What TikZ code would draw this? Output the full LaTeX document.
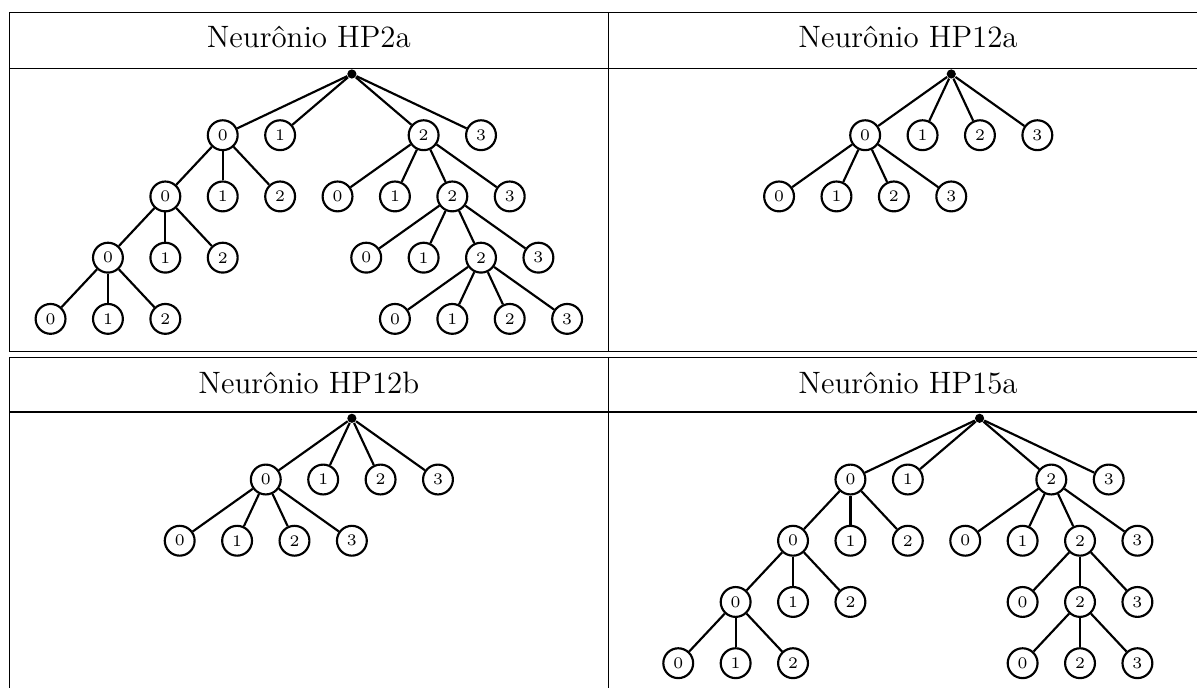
\documentclass[tikz,border=0pt]{standalone}
\usepackage{tikz}

\tikzset{
  tabela/.style={line width=0.4pt},
  titulo/.style={anchor=base, font=\fontsize{11.5}{14}\selectfont},
  raiz/.style={circle, fill, inner sep=0pt, minimum size=1.2mm},
  neuronio/.style={circle, draw, thick, inner sep=0pt, minimum size=3.9mm,
    font=\fontsize{6}{7}\selectfont},
  ramo/.style={thick}
}

\begin{document}
\begin{tikzpicture}
\useasboundingbox (0,0) rectangle (15.641,-8.990);

% Tabela
	\draw[tabela] (0.122,-0.163) -- (15.641,-0.163);
	\draw[tabela] (0.122,-0.893) -- (15.641,-0.893);
	\draw[tabela] (0.122,-4.596) -- (15.641,-4.596);
	\draw[tabela] (0.122,-4.666) -- (15.641,-4.666);
	\draw[tabela] (0.122,-5.384) -- (15.641,-5.384);

	\foreach \x in {0.122, 7.949} {
		\draw[tabela] (\x,-0.163) -- (\x,-4.596);
		\draw[tabela] (\x,-4.666) -- (\x,-8.990);
	}

	\node[titulo] (t1) at (4.035,-0.621) {Neurônio HP2a};
	\node[titulo] (t2) at (11.865,-0.621) {Neurônio HP12a};
	\node[titulo] (t3) at (4.035,-5.139) {Neurônio HP12b};
	\node[titulo] (t4) at (11.865,-5.139) {Neurônio HP15a};

% Neurônio HP2a
\begin{scope}[shift={(4.598cm,-0.967cm)}, x=7.5mm, y=8mm, name prefix=hp2a-]
	\node[raiz] (r) at (0,0) {};
	\foreach \x/\n in {-2.25/0, -1.25/1, 1.25/2, 2.25/3}
		\node[neuronio] (a\n) at (\x,-1) {\n};
	\foreach \x/\n in {-3.25/0, -2.25/1, -1.25/2}
		\node[neuronio] (b\n) at (\x,-2) {\n};
	\foreach \x/\n in {-4.25/0, -3.25/1, -2.25/2}
		\node[neuronio] (c\n) at (\x,-3) {\n};
	\foreach \x/\n in {-5.25/0, -4.25/1, -3.25/2}
		\node[neuronio] (d\n) at (\x,-4) {\n};
	\foreach \x/\n in {-0.25/0, 0.75/1, 1.75/2, 2.75/3}
		\node[neuronio] (e\n) at (\x,-2) {\n};
	\foreach \x/\n in {0.25/0, 1.25/1, 2.25/2, 3.25/3}
		\node[neuronio] (f\n) at (\x,-3) {\n};
	\foreach \x/\n in {0.75/0, 1.75/1, 2.75/2, 3.75/3}
		\node[neuronio] (g\n) at (\x,-4) {\n};

	\foreach \n in {0, 1, 2, 3}
		\draw[ramo] (r) -- (a\n);
	\foreach \n in {0, 1, 2} {
		\draw[ramo] (a0) -- (b\n);
		\draw[ramo] (b0) -- (c\n);
		\draw[ramo] (c0) -- (d\n);
	}
	\foreach \n in {0, 1, 2, 3} {
		\draw[ramo] (a2) -- (e\n);
		\draw[ramo] (e2) -- (f\n);
		\draw[ramo] (f2) -- (g\n);
	}
\end{scope}

% Neurônio HP12a
\begin{scope}[shift={(12.43cm,-0.967cm)}, x=7.5mm, y=8mm, name prefix=hp12a-]
	\node[raiz] (r) at (0,0) {};
	\foreach \x/\n in {-1.5/0, -0.5/1, 0.5/2, 1.5/3}
		\node[neuronio] (a\n) at (\x,-1) {\n};
	\foreach \x/\n in {-3/0, -2/1, -1/2, 0/3}
		\node[neuronio] (b\n) at (\x,-2) {\n};

	\foreach \n in {0, 1, 2, 3} {
		\draw[ramo] (r) -- (a\n);
		\draw[ramo] (a0) -- (b\n);
	}
\end{scope}

% Neurônio HP12b
\begin{scope}[shift={(4.598cm,-5.466cm)}, x=7.5mm, y=8mm, name prefix=hp12b-]
	\node[raiz] (r) at (0,0) {};
	\foreach \x/\n in {-1.5/0, -0.5/1, 0.5/2, 1.5/3}
		\node[neuronio] (a\n) at (\x,-1) {\n};
	\foreach \x/\n in {-3/0, -2/1, -1/2, 0/3}
		\node[neuronio] (b\n) at (\x,-2) {\n};

	\foreach \n in {0, 1, 2, 3} {
		\draw[ramo] (r) -- (a\n);
		\draw[ramo] (a0) -- (b\n);
	}
\end{scope}

% Neurônio HP15a
\begin{scope}[shift={(12.80cm,-5.466cm)}, x=7.5mm, y=8mm, name prefix=hp15a-]
	\node[raiz] (r) at (0,0) {};
	\foreach \x/\n in {-2.25/0, -1.25/1, 1.25/2, 2.25/3}
		\node[neuronio] (a\n) at (\x,-1) {\n};
	\foreach \x/\n in {-3.25/0, -2.25/1, -1.25/2}
		\node[neuronio] (b\n) at (\x,-2) {\n};
	\foreach \x/\n in {-4.25/0, -3.25/1, -2.25/2}
		\node[neuronio] (c\n) at (\x,-3) {\n};
	\foreach \x/\n in {-5.25/0, -4.25/1, -3.25/2}
		\node[neuronio] (d\n) at (\x,-4) {\n};
	\foreach \x/\n in {-0.25/0, 0.75/1, 1.75/2, 2.75/3}
		\node[neuronio] (e\n) at (\x,-2) {\n};
	\foreach \x/\n in {0.75/0, 1.75/2, 2.75/3}
		\node[neuronio] (f\n) at (\x,-3) {\n};
	\foreach \x/\n in {0.75/0, 1.75/2, 2.75/3}
		\node[neuronio] (g\n) at (\x,-4) {\n};

	\foreach \n in {0, 1, 2, 3} {
		\draw[ramo] (r) -- (a\n);
		\draw[ramo] (a2) -- (e\n);
	}
	\foreach \n in {0, 1, 2} {
		\draw[ramo] (a0) -- (b\n);
		\draw[ramo] (b0) -- (c\n);
		\draw[ramo] (c0) -- (d\n);
	}
	\foreach \n in {0, 2, 3} {
		\draw[ramo] (e2) -- (f\n);
		\draw[ramo] (f2) -- (g\n);
	}
\end{scope}
\end{tikzpicture}
\end{document}
